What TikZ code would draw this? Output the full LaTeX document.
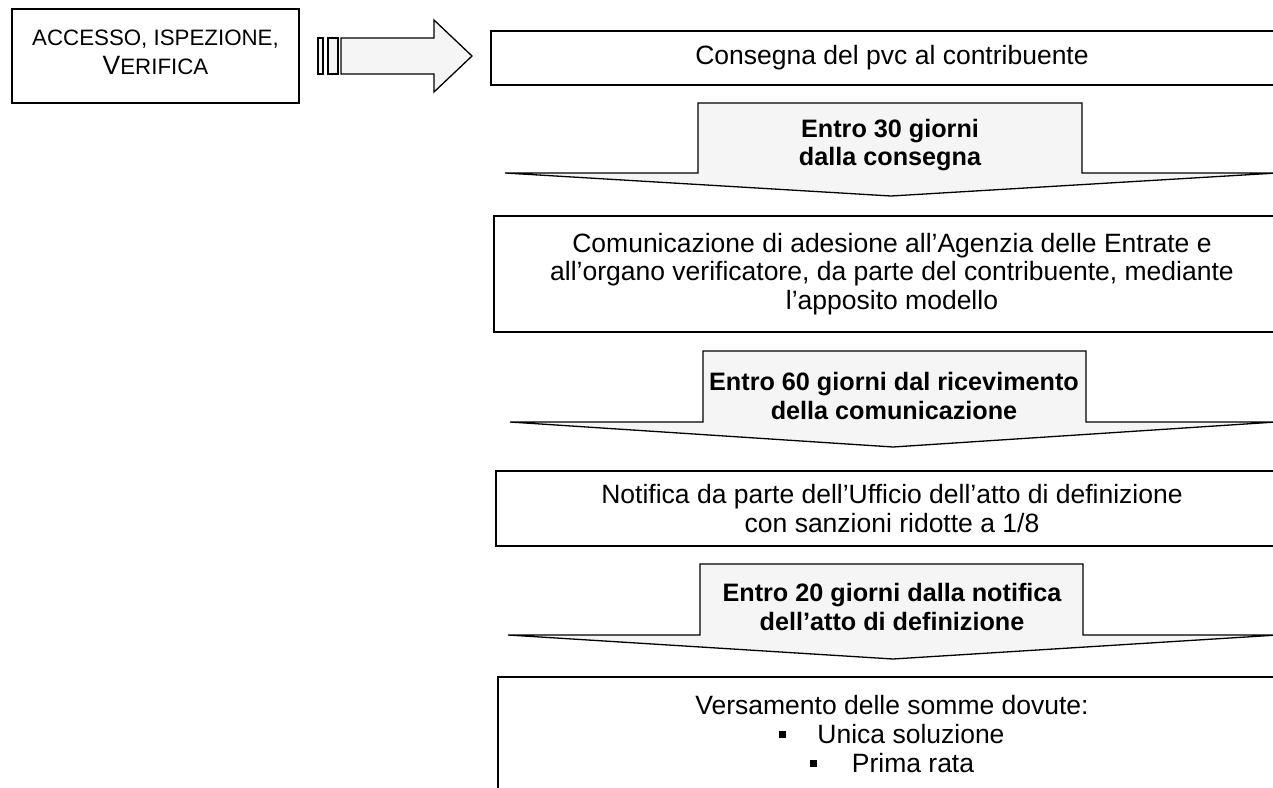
\documentclass[tikz,border=0pt]{standalone}
\usepackage{fontspec}
\setmainfont{Liberation Sans}
\definecolor{callfill}{RGB}{245,245,245}
\newcommand\mainfs{\fontsize{26.5}{28.8}\selectfont}
\newcommand\boldfs{\fontsize{25.2}{28.5}\selectfont\bfseries}
\newcommand\scfs{\fontsize{22.3}{29}\selectfont}
\tikzset{
  box/.style={draw, line width=1.3pt, fill=white, align=center, inner sep=0pt, font=\mainfs},
  calltext/.style={align=center, inner sep=0pt, font=\boldfs},
  callshape/.style={draw, line width=1.3pt, fill=callfill, line join=miter},
  bigarrow/.style={draw, line width=1.3pt, fill=callfill, line join=miter}
}
\begin{document}
\begin{tikzpicture}[x=1pt,y=-1pt]
\useasboundingbox (0,0) rectangle (1273,787);
\clip (0,0) rectangle (1273,787);

% first box
\node[box, minimum width=287pt, minimum height=94pt] (acc) at (155.5,56) {};
\node[align=center, inner sep=0pt, font=\scfs] (acctext) at (155.5,52)
  {ACCESSO, ISPEZIONE,\\{\fontsize{26.5}{29}\selectfont V}ERIFICA};

% block arrow
\draw[bigarrow] (318,38) rectangle (323,74);
\draw[bigarrow] (328,38) rectangle (338,74);
\draw[bigarrow] (341,38) -- (434,38) -- (434,20) -- (472,56) -- (434,92) -- (434,74) -- (341,74) -- cycle;

% boxes
\node[box, minimum width=802pt, minimum height=54pt] (consegna) at (892,58)
  {Consegna del pvc al contribuente};
\node[box, minimum width=796pt, minimum height=116pt] (comunic) at (892,274)
  {Comunicazione di adesione all’Agenzia delle Entrate e\\
   all’organo verificatore, da parte del contribuente, mediante\\
   l’apposito modello};
\node[box, minimum width=792pt, minimum height=75pt] (notifica) at (892,508.5)
  {Notifica da parte dell’Ufficio dell’atto di definizione\\
   con sanzioni ridotte a 1/8};
\node[box, minimum width=788pt, minimum height=114pt] (versam) at (892,734)
  {Versamento delle somme dovute:\\
   \raisebox{5pt}{\rule{7pt}{7pt}}\hspace{31pt}Unica soluzione\\
   \raisebox{5pt}{\rule{7pt}{7pt}}\hspace{35pt}Prima rata};

% callouts
\draw[callshape] (505,173) -- (698,173) -- (698,103) -- (1082,103) -- (1082,173) -- (1277,173) -- (891,196) -- cycle;
\node[calltext] (c1) at (890,145) {Entro 30 giorni\\dalla consegna};

\draw[callshape] (510,422) -- (703,422) -- (703,351) -- (1086,351) -- (1086,422) -- (1276,422) -- (893,447) -- cycle;
\node[calltext] (c2) at (894,396) {Entro 60 giorni dal ricevimento\\della comunicazione};

\draw[callshape] (508,635) -- (700,635) -- (700,564) -- (1083,564) -- (1083,635) -- (1278,635) -- (893,659) -- cycle;
\node[calltext] (c3) at (892,607) {Entro 20 giorni dalla notifica\\dell’atto di definizione};
\end{tikzpicture}
\end{document}
